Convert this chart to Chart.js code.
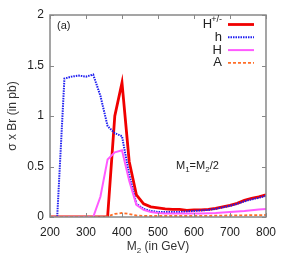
<!DOCTYPE html>
<html>
<head>
<meta charset="utf-8">
<script src="https://cdn.jsdelivr.net/npm/chart.js@4.4.0/dist/chart.umd.min.js"></script>
<style>
  html, body { margin: 0; padding: 0; background: #fff; }
  #wrap { width: 284px; height: 256px; }
</style>
</head>
<body>
<div id="wrap"><canvas id="myChart" width="284" height="256"></canvas></div>
<script>
const masses = [200,220,240,260,280,300,320,340,360,380,400,420,440,460,480,500,520,540,560,580,600,620,640,660,680,700,720,740,760,780,800];
const hCharged = [0,0,0,0,0,0,0,0,0,1.0,1.33,0.55,0.22,0.13,0.10,0.09,0.08,0.075,0.075,0.065,0.07,0.07,0.075,0.085,0.10,0.115,0.135,0.165,0.185,0.20,0.22];
const hLight = [0,0,1.37,1.39,1.40,1.39,1.41,1.20,0.90,0.83,0.80,0.42,0.13,0.08,0.06,0.05,0.05,0.05,0.05,0.055,0.06,0.065,0.07,0.08,0.095,0.11,0.13,0.155,0.175,0.19,0.21];
const hHeavy = [0,0,0,0,0,0,0,0.2,0.57,0.64,0.66,0.36,0.12,0.07,0.05,0.04,0.035,0.035,0.035,0.035,0.035,0.035,0.038,0.04,0.045,0.05,0.055,0.06,0.068,0.074,0.08];
const aOdd = [0,0,0,0,0,0,0,0,0.005,0.03,0.04,0.03,0.015,0.01,0.01,0.01,0.01,0.01,0.01,0.01,0.01,0.012,0.012,0.013,0.014,0.015,0.016,0.017,0.018,0.019,0.02];
const xTicks = [200,300,400,500,600,700,800];
const yTicks = [0,0.5,1,1.5,2];

const font = "'Liberation Sans', Arial, sans-serif";

function pts(arr) {
  return masses.map((m, i) => ({ x: m, y: arr[i] }));
}

const series = [
  { label: 'H', sup: '+/-', data: hCharged, color: 'rgb(240,0,0)', width: 2.8, dash: [] },
  { label: 'h', data: hLight, color: 'rgb(30,30,240)', width: 2, dash: [1.5, 1] },
  { label: 'H', data: hHeavy, color: 'rgb(255,90,255)', width: 2, dash: [] },
  { label: 'A', data: aOdd, color: 'rgb(255,110,40)', width: 1.8, dash: [3, 2] }
];

// inward ticks on all four sides, legend and labels
const decor = {
  id: 'decor',
  afterDatasetsDraw(chart) {
    const c = chart.ctx, a = chart.chartArea;
    const xs = chart.scales.x, ys = chart.scales.y;
    c.save();
    c.strokeStyle = '#888';
    c.lineWidth = 1;
    c.beginPath();
    xTicks.forEach(t => {
      const px = Math.round(xs.getPixelForValue(t)) + 0.5;
      c.moveTo(px, a.bottom); c.lineTo(px, a.bottom - 4);
      c.moveTo(px, a.top); c.lineTo(px, a.top + 4);
    });
    yTicks.forEach(t => {
      const py = Math.round(ys.getPixelForValue(t)) + 0.5;
      c.moveTo(a.left, py); c.lineTo(a.left + 4, py);
      c.moveTo(a.right, py); c.lineTo(a.right - 4, py);
    });
    c.stroke();
    c.lineWidth = 1.5;
    c.strokeRect(a.left, a.top, a.right - a.left, a.bottom - a.top);

    // legend
    c.fillStyle = '#222';
    c.textBaseline = 'middle';
    series.forEach((s, i) => {
      const y = a.top + 9.5 + i * 12.8;
      const tx = a.right - 44;
      c.textAlign = 'right';
      if (s.sup) {
        c.font = '9px ' + font;
        c.fillText(s.sup, tx, y - 5);
        const w = c.measureText(s.sup).width;
        c.font = '13px ' + font;
        c.fillText(s.label, tx - w + 1, y);
      } else {
        c.font = '13px ' + font;
        c.fillText(s.label, tx, y);
      }
      c.strokeStyle = s.color;
      c.lineWidth = s.width;
      c.setLineDash(s.dash);
      c.beginPath();
      c.moveTo(a.right - 38, y); c.lineTo(a.right - 12, y);
      c.stroke();
      c.setLineDash([]);
    });

    // (a)
    c.textAlign = 'left';
    c.font = '11px ' + font;
    c.fillText('(a)', a.left + 7, a.top + 11);

    // M1=M2/2
    let x = 176, y = 166;
    const parts = [['M', 0], ['1', 1], ['=M', 0], ['2', 1], ['/2', 0]];
    parts.forEach(p => {
      if (p[1]) {
        c.font = '8px ' + font;
        c.fillText(p[0], x, y + 4);
      } else {
        c.font = '11px ' + font;
        c.fillText(p[0], x, y);
      }
      x += c.measureText(p[0]).width;
    });

    // x title M2 (in GeV)
    c.fillStyle = '#333';
    const t1 = 'M', t2 = '2', t3 = ' (in GeV)';
    c.font = '12px ' + font;
    const w1 = c.measureText(t1).width, w3 = c.measureText(t3).width;
    c.font = '8px ' + font;
    const w2 = c.measureText(t2).width;
    let sx = (a.left + a.right) / 2 - (w1 + w2 + w3) / 2;
    const ty = 247;
    c.font = '12px ' + font;
    c.fillText(t1, sx, ty);
    c.font = '8px ' + font;
    c.fillText(t2, sx + w1, ty + 4);
    c.font = '12px ' + font;
    c.fillText(t3, sx + w1 + w2, ty);
    c.restore();
  }
};

const ctx = document.getElementById('myChart').getContext('2d');
new Chart(ctx, {
  type: 'line',
  data: {
    datasets: series.map(s => ({
      label: s.label,
      data: pts(s.data),
      borderColor: s.color,
      borderWidth: s.width,
      borderDash: s.dash,
      pointRadius: 0,
      tension: 0,
      fill: false
    })).reverse()
  },
  options: {
    responsive: false,
    animation: false,
    layout: { padding: { top: 15, right: 17, left: 5, bottom: 0 } },
    scales: {
      x: {
        type: 'linear',
        min: 200, max: 800,
        afterBuildTicks: s => { s.ticks = xTicks.map(v => ({ value: v })); },
        afterFit: s => { s.height = 39; },
        grid: { display: false, drawTicks: false },
        border: { display: false },
        ticks: { color: '#222', font: { family: font, size: 12 }, padding: 8, maxRotation: 0 }
      },
      y: {
        min: 0, max: 2,
        afterBuildTicks: s => { s.ticks = yTicks.map(v => ({ value: v })); },
        afterFit: s => { s.width = 45; },
        grid: { display: false, drawTicks: false },
        border: { display: false },
        ticks: { color: '#222', font: { family: font, size: 12 }, padding: 6, callback: v => String(v) },
        title: { display: true, text: 'σ x Br (in pb)', color: '#333', font: { family: font, size: 12 }, padding: 0 }
      }
    },
    plugins: { legend: { display: false }, tooltip: { enabled: false } }
  },
  plugins: [decor]
});
</script>
</body>
</html>
